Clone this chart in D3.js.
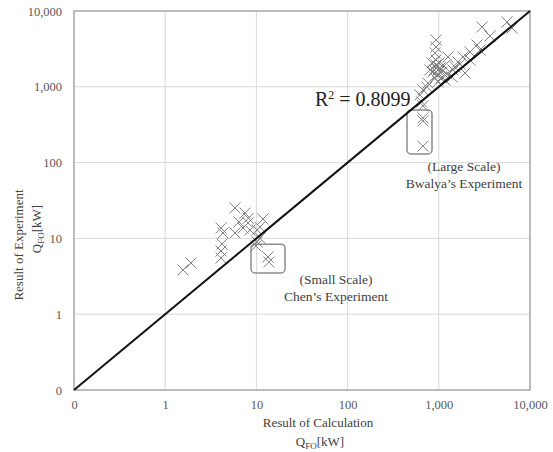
<!DOCTYPE html>
<html>
<head>
<meta charset="utf-8">
<script src="https://cdn.jsdelivr.net/npm/d3@7"></script>
<style>
  body { margin: 0; background: #fff; }
  text { font-family: "Liberation Serif", "Times New Roman", serif; }
</style>
</head>
<body>
<svg id="chart" width="553" height="452"></svg>
<script>
// tick values and their labels (the 0.1 decade is labelled "0" in the original)
const tickValues = [0.1, 1, 10, 100, 1000, 10000];
const tickLabels = ["0", "1", "10", "100", "1,000", "10,000"];

// Chen's experiment (small scale): [calculated, experimental] kW
const smallScale = [
  [1.57, 3.83], [1.92, 4.74], [4.09, 5.51], [4.09, 6.82], [4.2, 8.44],
  [4.3, 11.8], [4.1, 13.7], [5.82, 25.2], [7.5, 21.6], [6.44, 16.5],
  [5.82, 11.8], [8.1, 16.0], [8.5, 12.9], [10.2, 12.9], [11.8, 18.0],
  [10.9, 14.1], [10.2, 8.97], [9.9, 7.94], [13.4, 5.68], [13.7, 4.88],
  [8.15, 18.4], [7.13, 13.7], [10.9, 10.1]
];

// Bwalya's experiment (large scale): [calculated, experimental] kW
const largeScale = [
  [5600, 7160], [6350, 5970], [2980, 6150], [3640, 4680], [930, 4140],
  [930, 3350], [910, 2790], [1260, 2470], [1840, 2470], [2200, 2880],
  [2620, 3560], [2830, 3060], [1510, 1830], [1620, 2130], [1940, 1520],
  [1400, 1350], [1170, 1230], [2200, 2260], [1710, 2000], [1430, 1670],
  [840, 2060], [890, 1670], [930, 1940], [980, 1670], [860, 1570],
  [960, 1430], [1030, 1770], [1080, 1570], [930, 2260], [1005, 2060],
  [1060, 1310], [910, 1310], [1140, 1880], [800, 1670], [1230, 1480],
  [980, 1160], [740, 990], [670, 910], [620, 780], [760, 1120],
  [650, 630], [670, 560], [670, 390], [670, 355], [670, 165]
];

// outlier groups highlighted with rounded boxes: [xMin, xMax, yMin, yMax]
const chenBox = [8.73, 20.6, 3.5, 8.4];
const bwalyaBox = [448, 842, 130, 494];

const rSquared = "0.8099";

const svg = d3.select("#chart");
const margin = { top: 11, right: 23, bottom: 62, left: 74 };
const width = 553 - margin.left - margin.right;
const height = 452 - margin.top - margin.bottom;

const x = d3.scaleLog().domain([0.1, 10000]).range([0, width]);
const y = d3.scaleLog().domain([0.1, 10000]).range([height, 0]);

const g = svg.append("g")
  .attr("transform", `translate(${margin.left},${margin.top})`);

// gridlines
g.append("g")
  .selectAll("line.vgrid")
  .data(tickValues.slice(1, -1))
  .join("line")
  .attr("x1", d => x(d)).attr("x2", d => x(d))
  .attr("y1", 0).attr("y2", height)
  .attr("stroke", "#d9d9d9").attr("stroke-width", 1);

g.append("g")
  .selectAll("line.hgrid")
  .data(tickValues.slice(1, -1))
  .join("line")
  .attr("y1", d => y(d)).attr("y2", d => y(d))
  .attr("x1", 0).attr("x2", width)
  .attr("stroke", "#d9d9d9").attr("stroke-width", 1);

// axes (labels only)
const fmt = d => tickLabels[tickValues.indexOf(d)];

const xAxis = g.append("g")
  .attr("transform", `translate(0,${height})`)
  .call(d3.axisBottom(x).tickValues(tickValues).tickFormat(fmt).tickSize(0).tickPadding(10));

const yAxis = g.append("g")
  .call(d3.axisLeft(y).tickValues(tickValues).tickFormat(fmt).tickSize(0).tickPadding(12));

[xAxis, yAxis].forEach(a => {
  a.select(".domain").remove();
  a.selectAll("text")
    .attr("fill", "#595959")
    .style("font-size", "12.5px")
    .style("font-family", "'Liberation Serif', serif");
});

// plot frame
g.append("rect")
  .attr("width", width).attr("height", height)
  .attr("fill", "none")
  .attr("stroke", "#a6a6a6").attr("stroke-width", 1.5);

// highlight boxes
[chenBox, bwalyaBox].forEach(b => {
  g.append("rect")
    .attr("x", x(b[0])).attr("y", y(b[3]))
    .attr("width", x(b[1]) - x(b[0]))
    .attr("height", y(b[2]) - y(b[3]))
    .attr("rx", 4)
    .attr("fill", "none")
    .attr("stroke", "#8c8c8c").attr("stroke-width", 1.5);
});

// markers
const xMark = "M-5.5,-5.5L5.5,5.5M-5.5,5.5L5.5,-5.5";
g.append("g")
  .selectAll("path")
  .data(smallScale.concat(largeScale))
  .join("path")
  .attr("d", xMark)
  .attr("transform", d => `translate(${x(d[0])},${y(d[1])})`)
  .attr("fill", "none")
  .attr("stroke", "#7f7f7f")
  .attr("stroke-width", 1);

// y = x line
g.append("line")
  .attr("x1", x(0.1)).attr("y1", y(0.1))
  .attr("x2", x(10000)).attr("y2", y(10000))
  .attr("stroke", "#111").attr("stroke-width", 2);

// R² label
const r2 = g.append("text")
  .attr("x", 315 - margin.left).attr("y", 106 - margin.top)
  .attr("fill", "#222")
  .style("font-size", "20px");
r2.append("tspan").text("R");
r2.append("tspan").attr("dy", -7).style("font-size", "12px").text("2");
r2.append("tspan").attr("dy", 7).text(" = " + rSquared);

// group annotations
function note(cx, cy, lines) {
  const t = g.append("text")
    .attr("text-anchor", "middle")
    .attr("fill", "#404040")
    .style("font-size", "13.5px");
  lines.forEach((l, i) => {
    t.append("tspan").attr("x", cx).attr("y", cy + i * 17).text(l);
  });
}
note(464 - margin.left, 171 - margin.top, ["(Large Scale)", "Bwalya\u2019s Experiment"]);
note(336 - margin.left, 284 - margin.top, ["(Small Scale)", "Chen\u2019s Experiment"]);

// axis titles
const xt = svg.append("text")
  .attr("text-anchor", "middle")
  .attr("fill", "#404040")
  .style("font-size", "13px");
xt.append("tspan").attr("x", 318).attr("y", 427).text("Result of Calculation");
const xq = xt.append("tspan").attr("x", 320).attr("y", 446);
xq.append("tspan").text("Q");
xq.append("tspan").attr("dy", 3).style("font-size", "9px").text("FO");
xq.append("tspan").attr("dy", -3).text("[kW]");

const yt = svg.append("text")
  .attr("text-anchor", "middle")
  .attr("fill", "#404040")
  .attr("transform", "rotate(-90)")
  .style("font-size", "13px");
yt.append("tspan").attr("x", -245).attr("y", 23).text("Result of Experiment");
const yq = yt.append("tspan").attr("x", -229).attr("y", 41);
yq.append("tspan").text("Q");
yq.append("tspan").attr("dy", 3).style("font-size", "9px").text("FO");
yq.append("tspan").attr("dy", -3).text("[kW]");
</script>
</body>
</html>
